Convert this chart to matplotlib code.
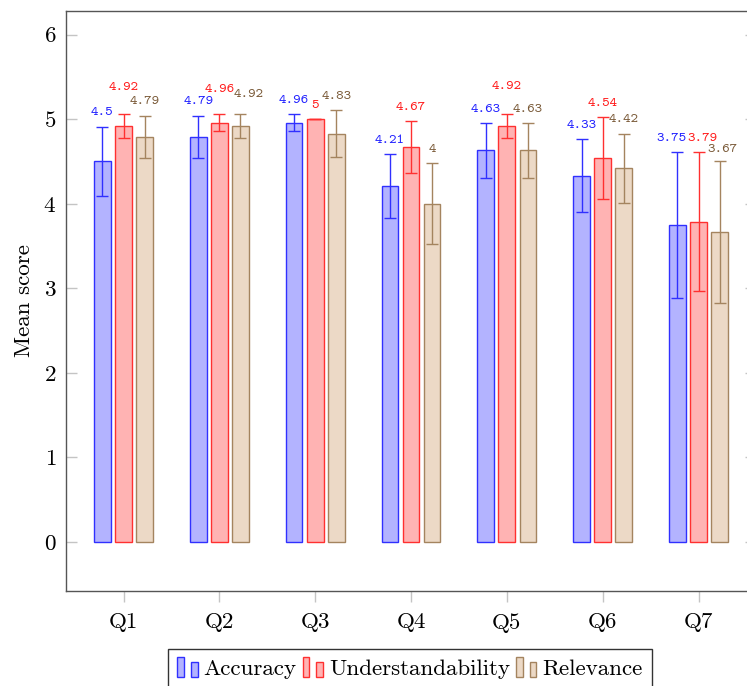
import numpy as np
import matplotlib
matplotlib.use("Agg")
import matplotlib.pyplot as plt
from matplotlib.patches import Rectangle
from matplotlib.legend_handler import HandlerBase


# =================================================
# DATA
# =================================================

questions = ["Q1", "Q2", "Q3", "Q4", "Q5", "Q6", "Q7"]

accuracy = [4.5, 4.79, 4.96, 4.21, 4.63, 4.33, 3.75]
understandability = [4.92, 4.96, 5.0, 4.67, 4.92, 4.54, 3.79]
relevance = [4.79, 4.92, 4.83, 4.0, 4.63, 4.42, 3.67]

accuracy_err = [0.41, 0.25, 0.10, 0.38, 0.32, 0.43, 0.86]
understandability_err = [0.14, 0.10, 0.0, 0.31, 0.14, 0.48, 0.82]
relevance_err = [0.25, 0.14, 0.28, 0.48, 0.32, 0.41, 0.84]

# labels that are shifted in the original (dx, dy in points)
label_nudge = {
    ("Understandability", 0): (0, 9),
    ("Understandability", 1): (0, 8),
    ("Relevance", 1): (6, 4),
    ("Understandability", 4): (0, 10),
    ("Accuracy", 6): (-4, 0),
    ("Understandability", 6): (3, 0),
    ("Relevance", 6): (2, -2),
}

series = [
    ("Accuracy", accuracy, accuracy_err, "#b3b3ff", "#3030ff", "#2020ff"),
    ("Understandability", understandability, understandability_err, "#ffb3b3", "#ff3030", "#ff1a1a"),
    ("Relevance", relevance, relevance_err, "#ecd9c6", "#a4845f", "#7a5a38"),
]


# =================================================
# LEGEND HANDLER (pgfplots style: two little bars)
# =================================================

class TwoBarHandler(HandlerBase):

    def create_artists(self, legend, orig_handle, xdescent, ydescent,
                       width, height, fontsize, trans):
        fc = orig_handle.get_facecolor()
        ec = orig_handle.get_edgecolor()
        w = width * 0.32
        r1 = Rectangle((-xdescent, -ydescent - 0.15 * height), w, height * 1.25,
                       facecolor=fc, edgecolor=ec, linewidth=1, transform=trans)
        r2 = Rectangle((-xdescent + width * 0.66, -ydescent - 0.15 * height), w, height * 0.97,
                       facecolor=fc, edgecolor=ec, linewidth=1, transform=trans)
        return [r1, r2]


# =================================================
# PLOT
# =================================================

plt.rcParams["font.family"] = ["cmr10", "DejaVu Serif"]
plt.rcParams["axes.formatter.use_mathtext"] = True

FS = 16.6

fig = plt.figure(figsize=(7.47, 6.86), dpi=100)
ax = fig.add_axes([66 / 747, 1 - 590.7 / 686, 690 / 747, (590.7 - 10.9) / 686])

x = np.arange(1, len(questions) + 1)
bar_w = 0.175
offset = 0.22

handles = []
for i, (name, values, errs, fill, edge, txt) in enumerate(series):

    pos = x + (i - 1) * offset

    bars = ax.bar(
        pos, values, width=bar_w,
        facecolor=fill, edgecolor=edge, linewidth=1.0,
        label=name, zorder=2
    )
    handles.append(bars.patches[0])

    ax.errorbar(
        pos, values, yerr=errs,
        fmt="none", ecolor=edge, elinewidth=1.0,
        capsize=4, capthick=1.0, zorder=3
    )

    for j, (p, v, e) in enumerate(zip(pos, values, errs)):
        dx, dy = label_nudge.get((name, j), (0, 0))
        ax.annotate(
            f"{v:g}",
            xy=(p, v + e), xytext=(dx, 6 + dy),
            textcoords="offset points",
            ha="center", va="bottom",
            fontsize=10.3, color=txt,
            family=["cmtt10", "DejaVu Sans Mono"]
        )

ax.set_xlim(0.4, 7.6)
ax.set_ylim(-0.575, 6.28)

ax.set_xticks(x)
ax.set_xticklabels(questions)
ax.set_yticks(range(0, 7))

ax.tick_params(axis="y", direction="in", length=8, width=1, color="#c4c4c4",
               labelsize=FS, pad=7, right=True)
ax.tick_params(axis="x", direction="out", length=8, width=1, color="#c4c4c4",
               labelsize=FS, pad=8)

for sp in ax.spines.values():
    sp.set_color("#555555")
    sp.set_linewidth(1.0)

ax.set_ylabel("Mean score", fontsize=FS)
ax.yaxis.set_label_coords(-0.047, 0.5)

leg = fig.legend(
    handles=handles,
    labels=[s[0] for s in series],
    handler_map={h: TwoBarHandler() for h in handles},
    loc="upper center",
    bbox_to_anchor=(410 / 747, 1 - 649 / 686),
    ncol=3,
    fontsize=FS,
    frameon=True,
    fancybox=False,
    edgecolor="black",
    handlelength=0.9,
    handleheight=0.7,
    handletextpad=0.25,
    columnspacing=0.25,
    borderpad=0.42,
    borderaxespad=0,
)
leg.get_frame().set_linewidth(1.0)

fig.savefig("out.png", dpi=100)
plt.close(fig)
